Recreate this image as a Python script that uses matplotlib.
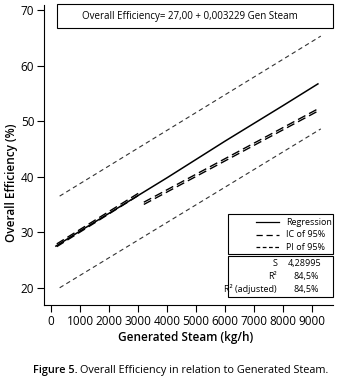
import numpy as np
import matplotlib
matplotlib.use("Agg")
import matplotlib.pyplot as plt
from matplotlib.lines import Line2D
from matplotlib.patches import Rectangle

plt.rcParams['font.family'] = ['Open Sans', 'DejaVu Sans']

# ========== data ==========
reg_x = [170, 1000, 2000, 3000, 4000, 5000, 6000, 7000, 8000, 9200]
reg_y = [27.5, 30.2, 33.4, 36.6, 39.8, 43.1, 46.4, 49.6, 52.8, 56.7]

# confidence band (drawn as doubled long dashes, in two pieces)
ic1_x = [200, 3100]
ic1_hi = [27.9, 37.3]
ic1_lo = [27.4, 36.9]
ic2_x = [3200, 9200]
ic2_hi = [35.4, 52.2]
ic2_lo = [35.0, 51.8]

# prediction band
pi_x = [300, 9300]
pi_hi = [36.5, 65.3]
pi_lo = [20.0, 48.6]

x_ticks = [0, 1000, 2000, 3000, 4000, 5000, 6000, 7000, 8000, 9000]
y_ticks = [20, 30, 40, 50, 60, 70]

legend_labels = ['Regression', 'IC of 95%', 'PI of 95%']
stats_lab = ['S', 'R²', 'R² (adjusted)']
stats_val = ['4,28995', '84,5%', '84,5%']

W, H = 339, 380
fig = plt.figure(figsize=(W / 100, H / 100), dpi=100)

def fx(px):
    return px / W

def fy(py):
    return 1 - py / H

ax = fig.add_axes([fx(44), fy(305), fx(333) - fx(44), fy(5) - fy(305)])

ax.plot(reg_x, reg_y, color='black', lw=1.1, ls='-')
for hi, lo, xs in [(ic1_hi, ic1_lo, ic1_x), (ic2_hi, ic2_lo, ic2_x)]:
    ax.plot(xs, hi, color='black', lw=1.0, ls=(0, (6, 3)))
    ax.plot(xs, lo, color='black', lw=1.0, ls=(0, (6, 3)))
ax.plot(pi_x, pi_hi, color='#333333', lw=0.8, ls=(0, (4, 3)))
ax.plot(pi_x, pi_lo, color='#333333', lw=0.8, ls=(0, (4, 3)))

ax.set_xlim(-240, 9720)
ax.set_ylim(16.9, 70.9)
ax.set_xticks(x_ticks)
ax.set_yticks(y_ticks)
ax.tick_params(labelsize=8.5, length=5, width=0.8, direction='out', pad=2)
ax.spines['top'].set_visible(False)
ax.spines['right'].set_visible(False)
ax.set_xlabel('Generated Steam (kg/h)', fontsize=8.5, fontweight='semibold')
ax.xaxis.set_label_coords(0.49, (fy(338) - fy(305)) / (fy(5) - fy(305)))
ax.xaxis.label.set_va('center')
fig.text(fx(12), fy(183), 'Overall Efficiency (%)', rotation=90, ha='center', va='center',
         fontsize=8.5, fontweight='semibold')

# equation box
fig.patches.append(Rectangle((fx(57), fy(28)), fx(333) - fx(57), fy(4) - fy(28),
                             transform=fig.transFigure, fill=False, lw=0.8, ec='black'))
fig.text(fx(190), fy(16.5), 'Overall Efficiency= 27,00 + 0,003229 Gen Steam',
         ha='center', va='center', fontsize=7.0)

# legend box, drawn by hand to match the layout
fig.patches.append(Rectangle((fx(228), fy(254)), fx(333) - fx(228), fy(214) - fy(254),
                             transform=fig.transFigure, fill=False, lw=0.8, ec='black'))
leg_styles = ['-', (0, (5, 3)), (0, (3, 2))]
for i, (lab, st) in enumerate(zip(legend_labels, leg_styles)):
    yy = 222 + i * 12.5
    fig.lines.append(Line2D([fx(256), fx(279)], [fy(yy), fy(yy)], transform=fig.transFigure,
                            color='black', lw=0.9, ls=st))
    fig.text(fx(286), fy(yy), lab, ha='left', va='center', fontsize=6.5)

# stats box
fig.patches.append(Rectangle((fx(228), fy(297)), fx(333) - fx(228), fy(256) - fy(297),
                             transform=fig.transFigure, fill=False, lw=0.8, ec='black'))
for i, (lab, val) in enumerate(zip(stats_lab, stats_val)):
    yy = 263.5 + i * 13
    fig.text(fx(277), fy(yy), lab, ha='right', va='center', fontsize=6.5)
    fig.text(fx(288 if i == 0 else 294), fy(yy), val, ha='left', va='center', fontsize=6.5)

# caption
fig.text(fx(33), fy(371), 'Figure 5.', ha='left', va='center', fontsize=7.8,
         fontweight='semibold')
fig.text(fx(80), fy(371), 'Overall Efficiency in relation to Generated Steam.',
         ha='left', va='center', fontsize=7.8)

fig.savefig('out.png', dpi=100)
